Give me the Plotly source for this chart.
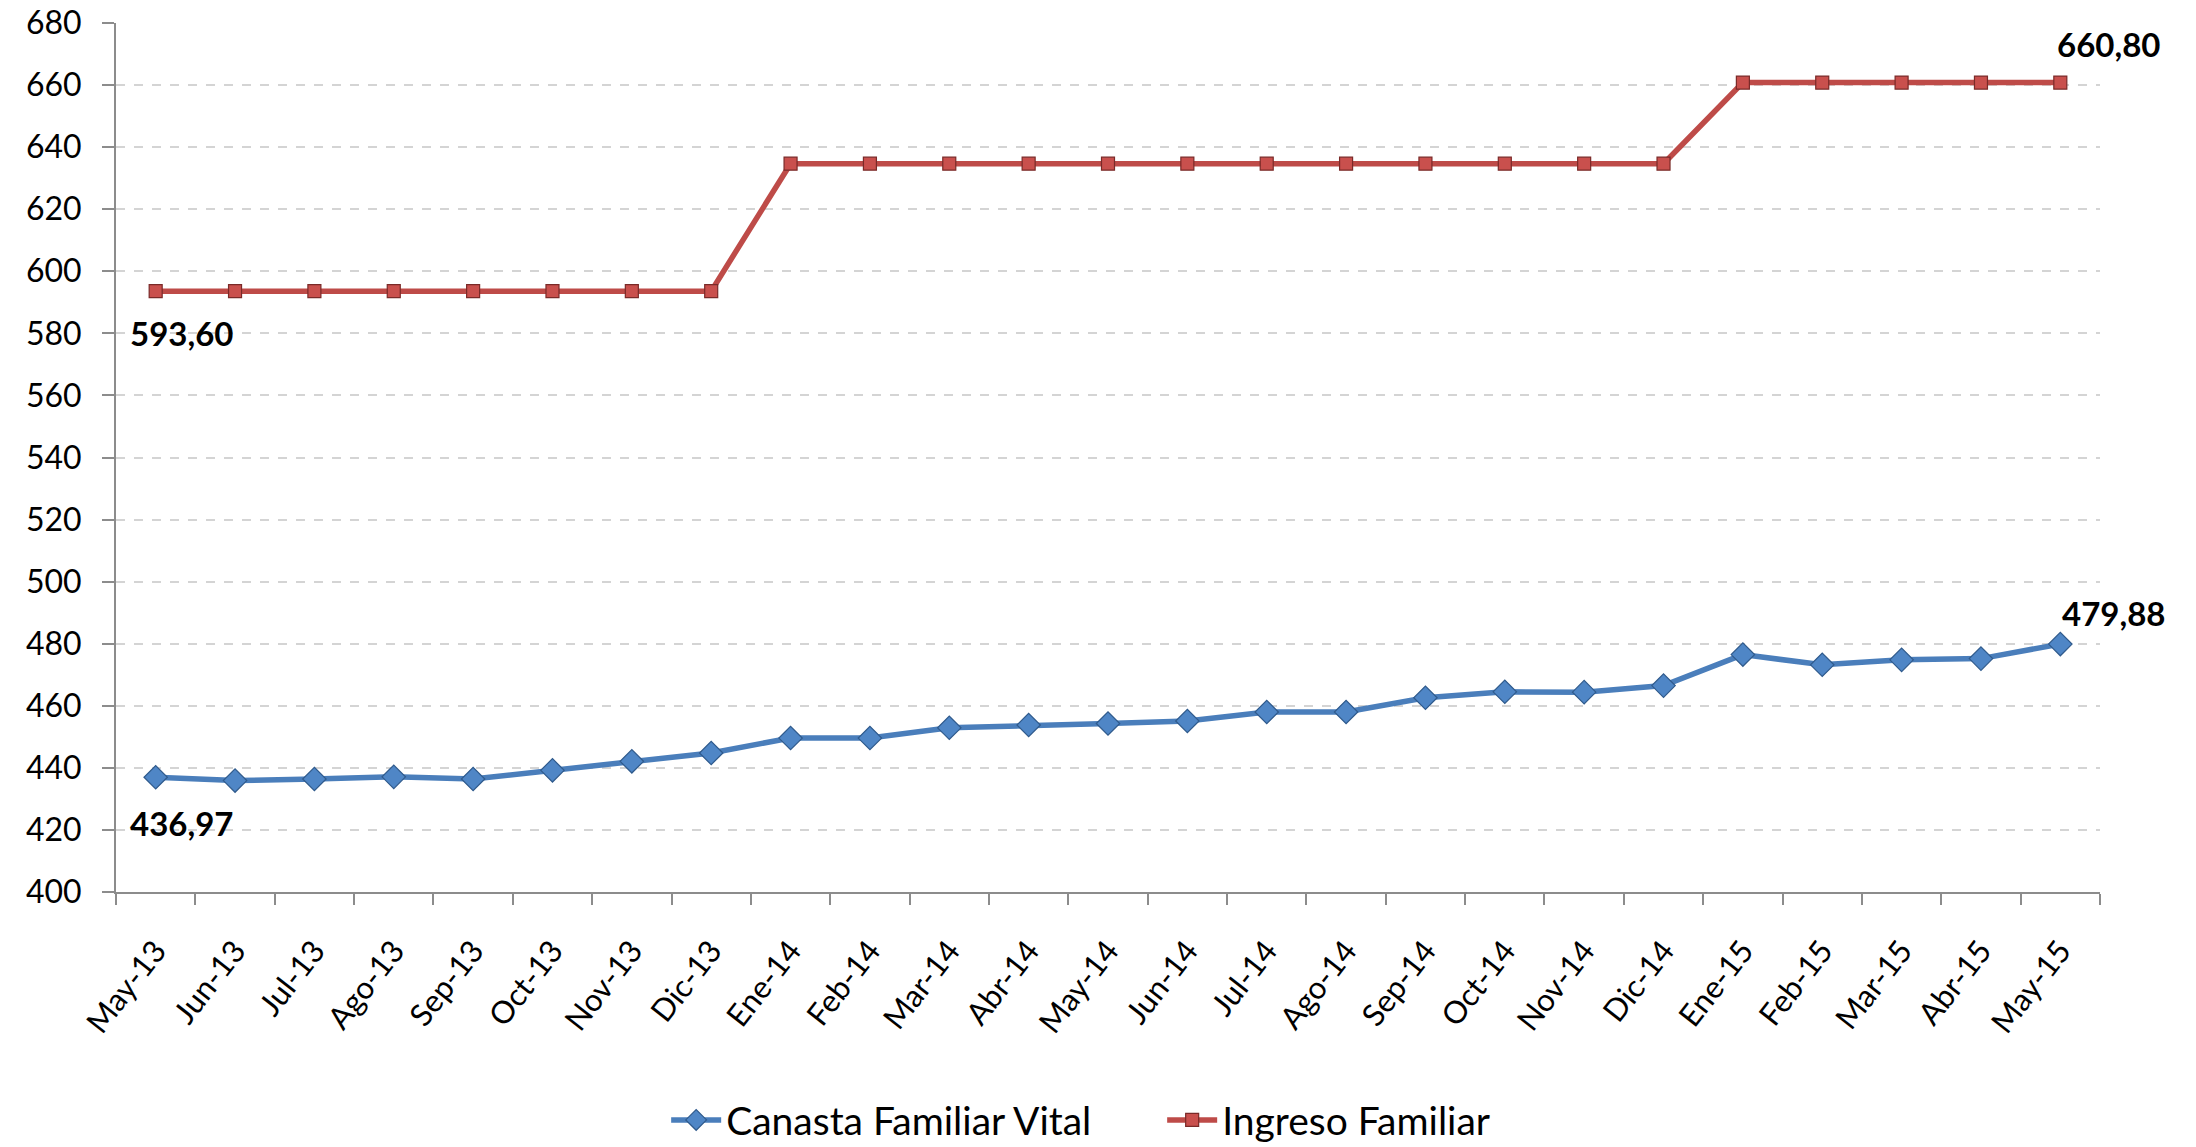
import plotly.graph_objects as go

months = ["May-13", "Jun-13", "Jul-13", "Ago-13", "Sep-13", "Oct-13", "Nov-13", "Dic-13",
          "Ene-14", "Feb-14", "Mar-14", "Abr-14", "May-14", "Jun-14", "Jul-14", "Ago-14",
          "Sep-14", "Oct-14", "Nov-14", "Dic-14", "Ene-15", "Feb-15", "Mar-15", "Abr-15", "May-15"]

canasta = [436.97, 435.9, 436.4, 437.1, 436.4, 439.2, 442.1, 444.8,
           449.6, 449.6, 452.9, 453.8, 454.3, 455.1, 458.0, 458.0,
           462.6, 464.5, 464.4, 466.5, 476.5, 473.2, 474.8, 475.2, 479.88]

ingreso = [593.60] * 8 + [634.67] * 12 + [660.80] * 5

y_ticks = list(range(400, 681, 20))

BLUE = "#4a7ebb"
RED = "#be4b48"
FONT = "Lato"

fig = go.Figure()
fig.add_trace(go.Scatter(
    x=months, y=canasta, name="Canasta Familiar Vital", mode="lines+markers",
    line=dict(color=BLUE, width=5.5),
    marker=dict(symbol="diamond", size=18, color="#4f86c6", line=dict(color="#2f5a8c", width=1.2)),
))
fig.add_trace(go.Scatter(
    x=months, y=ingreso, name="Ingreso Familiar", mode="lines+markers",
    line=dict(color=RED, width=5.5),
    marker=dict(symbol="square", size=13, color="#c9504d", line=dict(color="#7a2a28", width=1.2)),
))

labels = [
    (months[0], ingreso[0], "593,60", 26, -42),
    (months[0], canasta[0], "436,97", 26, -46),
    (months[-1], ingreso[-1], "660,80", 48, 39),
    (months[-1], canasta[-1], "479,88", 53, 31),
]
for x, y, t, xs, ys in labels:
    fig.add_annotation(x=x, y=y, text="<b>" + t + "</b>", showarrow=False,
                       xshift=xs, yshift=ys, font=dict(family=FONT, size=33, color="#000000"))

fig.update_layout(
    width=2196, height=1147,
    margin=dict(l=116, r=96, t=23, b=255, autoexpand=False),
    paper_bgcolor="white", plot_bgcolor="white",
    font=dict(family=FONT, color="#000000"),
    legend=dict(orientation="h", x=0.2773, xanchor="left", y=0.0235, yanchor="middle",
                yref="container",
                font=dict(family=FONT, size=39), itemwidth=50, entrywidth=431,
                tracegroupgap=0),
    showlegend=True,
)
fig.update_xaxes(
    type="category", tickangle=-52, tickfont=dict(family=FONT, size=31),
    showline=True, linecolor="#8c8c8c", linewidth=2,
    ticks="outside", ticklen=11, tickwidth=2, tickcolor="#8c8c8c", tickson="boundaries",
    showgrid=False, range=[-0.5, 24.5], ticklabelstandoff=26, automargin=False,
)
fig.update_yaxes(
    range=[400, 680], tickvals=y_ticks, tickfont=dict(family=FONT, size=32),
    showline=True, linecolor="#8c8c8c", linewidth=2,
    ticks="outside", ticklen=12, tickwidth=2, tickcolor="#8c8c8c",
    showgrid=True, gridcolor="#d4d4d4", griddash="dash", gridwidth=1.5,
    zeroline=False, ticklabelstandoff=14, automargin=False, ticklabeloverflow="allow",
)

fig.write_html("out.html", config={"displayModeBar": False},
               post_script="document.body.style.margin='0px';")
